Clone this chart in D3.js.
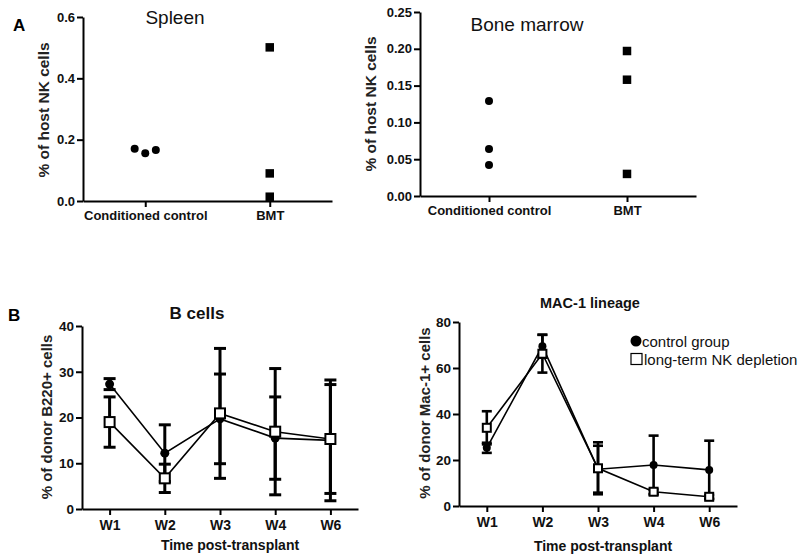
<!DOCTYPE html>
<html><head><meta charset="utf-8">
<script src="https://cdn.jsdelivr.net/npm/d3@7"></script>
<style>
body{margin:0;background:#fff;}
svg{display:block;font-family:"Liberation Sans",Arial,sans-serif;}
</style></head>
<body><svg id="c" width="800" height="560"></svg>
<script>
// ---------- DATA ----------
const groupCats = ["Conditioned control", "BMT"];
const spleenControl = [0.170, 0.156, 0.166];
const spleenBMT = [0.501, 0.090, 0.014];
const spleenTicks = [0, 0.2, 0.4, 0.6];
const marrowControl = [0.129, 0.064, 0.042];
const marrowBMT = [0.197, 0.158, 0.030];
const marrowTicks = [0, 0.05, 0.10, 0.15, 0.20, 0.25];

const weeks = ["W1", "W2", "W3", "W4", "W6"];
const bControlMean = [27.3, 12.2, 19.7, 15.5, 15.0];
const bControlErr  = [1.2, 6.2, 9.8, 9.0, 13.2];
const bNKMean = [19.0, 6.7, 20.9, 16.9, 15.3];
const bNKErr  = [5.5, 3.1, 14.2, 13.8, 11.9];
const bTicks = [0, 10, 20, 30, 40];

const macControlMean = [25.3, 69.5, 16.0, 17.8, 15.7];
const macControlErr  = [2.2, 5.0, 10.2, 12.8, 12.7];
const macNKMean = [34.0, 66.2, 16.4, 6.2, 4.0];
const macNKErr  = [7.2, 8.2, 11.3, 1.0, 0.8];
const macTicks = [0, 20, 40, 60, 80];

const legendLabels = ["control group", "long-term NK depletion"];

// ---------- DRAW ----------
const svg = d3.select("#c");

function styleAxis(g, fs) {
  g.selectAll("path.domain").attr("stroke", "#000").attr("stroke-width", 2);
  g.selectAll(".tick line").attr("stroke", "#000").attr("stroke-width", 2);
  g.selectAll(".tick text").attr("fill", "#111").style("font-weight", "bold")
    .style("font-size", fs + "px").style("font-family", "'Liberation Sans',Arial,sans-serif");
}

function scatterPanel(o) {
  const x = d3.scalePoint().domain(groupCats).range([o.x0, o.x1]).padding(0.5);
  const y = d3.scaleLinear().domain([0, d3.max(o.ticks)]).range([o.yb, o.yt]);
  const g = svg.append("g");
  const ya = g.append("g").attr("transform", `translate(${o.x0},0)`)
    .call(d3.axisLeft(y).tickValues(o.ticks).tickFormat(d3.format(o.fmt)).tickSize(6).tickSizeOuter(0).tickPadding(2));
  styleAxis(ya, 13);
  const xa = g.append("g").attr("transform", `translate(0,${o.yb})`)
    .call(d3.axisBottom(x).tickSize(6).tickSizeOuter(0).tickPadding(4));
  styleAxis(xa, 13);
  const step = x.step();
  const n = o.control.length;
  g.selectAll("circle.c").data(o.control).enter().append("circle")
    .attr("cx", (d, i) => x(groupCats[0]) + (o.jitter ? (i - (n - 1) / 2) * step * 0.085 : 0))
    .attr("cy", d => y(d)).attr("r", 4).attr("fill", "#000");
  const s = 8.5;
  g.selectAll("rect.b").data(o.bmt).enter().append("rect")
    .attr("x", x(groupCats[1]) - s / 2).attr("y", d => y(d) - s / 2)
    .attr("width", s).attr("height", s).attr("fill", "#000");
  g.append("text").attr("x", o.tx).attr("y", o.ty).attr("text-anchor", "middle")
    .style("font-size", "19px").attr("fill", "#111").text(o.title);
  g.append("text").attr("transform", `translate(${o.ytx},${o.yty}) rotate(-90)`)
    .attr("text-anchor", "middle").attr("dy", "0.35em")
    .style("font-size", "15.5px").style("font-weight", "bold").attr("fill", "#222")
    .text("% of host NK cells");
}

scatterPanel({x0: 83, x1: 332, yt: 17, yb: 201, ticks: spleenTicks, fmt: ".1f",
  control: spleenControl, bmt: spleenBMT, jitter: true, title: "Spleen", tx: 175, ty: 24, ytx: 44, yty: 110});
scatterPanel({x0: 420, x1: 696, yt: 12, yb: 196, ticks: marrowTicks, fmt: ".2f",
  control: marrowControl, bmt: marrowBMT, jitter: false, title: "Bone marrow", tx: 527, ty: 31, ytx: 371, yty: 104});

function timePanel(o) {
  const x = d3.scalePoint().domain(weeks).range([o.x0, o.x1]).padding(0.5);
  const y = d3.scaleLinear().domain([0, d3.max(o.ticks)]).range([o.yb, o.yt]);
  const g = svg.append("g");
  const ya = g.append("g").attr("transform", `translate(${o.x0},0)`)
    .call(d3.axisLeft(y).tickValues(o.ticks).tickFormat(d3.format("d")).tickSize(6).tickSizeOuter(0).tickPadding(2));
  styleAxis(ya, 13.5);
  const xa = g.append("g").attr("transform", `translate(0,${o.yb})`)
    .call(d3.axisBottom(x).tickSize(6).tickSizeOuter(0).tickPadding(5));
  styleAxis(xa, 14);

  const series = [
    {mean: o.cMean, err: o.cErr, kind: "circle"},
    {mean: o.nMean, err: o.nErr, kind: "square"}
  ];
  const line = d3.line().x((d, i) => x(weeks[i])).y(d => y(d));
  series.forEach(s => {
    g.append("path").datum(s.mean).attr("d", line).attr("fill", "none")
      .attr("stroke", "#000").attr("stroke-width", 1.6);
  });
  series.forEach(s => {
    s.mean.forEach((m, i) => {
      const cx = x(weeks[i]);
      const lo = y(Math.max(0, m - s.err[i])), hi = y(m + s.err[i]);
      g.append("line").attr("x1", cx).attr("x2", cx).attr("y1", lo).attr("y2", hi)
        .attr("stroke", "#000").attr("stroke-width", o.ew);
      [lo, hi].forEach(yy => g.append("line").attr("x1", cx - o.cap).attr("x2", cx + o.cap)
        .attr("y1", yy).attr("y2", yy).attr("stroke", "#000").attr("stroke-width", o.ew));
    });
  });
  series.forEach(s => {
    if (s.kind === "circle") {
      g.selectAll(null).data(s.mean).enter().append("circle")
        .attr("cx", (d, i) => x(weeks[i])).attr("cy", d => y(d)).attr("r", o.r).attr("fill", "#000");
    } else {
      g.selectAll(null).data(s.mean).enter().append("rect")
        .attr("x", (d, i) => x(weeks[i]) - o.sq / 2).attr("y", d => y(d) - o.sq / 2)
        .attr("width", o.sq).attr("height", o.sq).attr("fill", "#fff")
        .attr("stroke", "#000").attr("stroke-width", 2);
    }
  });
  g.append("text").attr("x", o.tx).attr("y", o.ty).attr("text-anchor", "middle")
    .style("font-size", o.tfs + "px").style("font-weight", "bold").attr("fill", "#111").text(o.title);
  g.append("text").attr("x", (o.x0 + o.x1) / 2 + o.xtOff).attr("y", o.xty).attr("text-anchor", "middle")
    .style("font-size", "14px").style("font-weight", "bold").attr("fill", "#111").text("Time post-transplant");
  g.append("text").attr("transform", `translate(${o.ytx},${o.yty}) rotate(-90)`)
    .attr("text-anchor", "middle").attr("dy", "0.35em")
    .style("font-size", "15px").style("font-weight", "bold").attr("fill", "#222").text(o.ytitle);
}

timePanel({x0: 82, x1: 358, yt: 326, yb: 509, ticks: bTicks,
  cMean: bControlMean, cErr: bControlErr, nMean: bNKMean, nErr: bNKErr,
  ew: 3, cap: 6, r: 4.5, sq: 10, title: "B cells", tfs: 17, tx: 197, ty: 319,
  xtOff: 10, xty: 550, ytx: 47, yty: 417, ytitle: "% of donor B220+ cells"});
timePanel({x0: 459, x1: 737, yt: 322, yb: 506, ticks: macTicks,
  cMean: macControlMean, cErr: macControlErr, nMean: macNKMean, nErr: macNKErr,
  ew: 2.6, cap: 5, r: 4, sq: 8, title: "MAC-1 lineage", tfs: 14.5, tx: 590, ty: 308,
  xtOff: 5, xty: 551, ytx: 425, yty: 413, ytitle: "% of donor Mac-1+ cells"});

// Legend
const lg = svg.append("g");
lg.append("circle").attr("cx", 636).attr("cy", 341).attr("r", 5.5).attr("fill", "#000");
lg.append("text").attr("x", 642).attr("y", 346.5).style("font-size", "15px").attr("fill", "#111").text(legendLabels[0]);
lg.append("rect").attr("x", 631).attr("y", 353.5).attr("width", 11).attr("height", 11)
  .attr("fill", "#fff").attr("stroke", "#000").attr("stroke-width", 1.2);
lg.append("text").attr("x", 644).attr("y", 364.5).style("font-size", "15px").attr("fill", "#111").text(legendLabels[1]);

// Panel letters
svg.append("text").attr("x", 13).attr("y", 31).style("font-size", "17px").style("font-weight", "bold").text("A");
svg.append("text").attr("x", 8).attr("y", 321).style("font-size", "17px").style("font-weight", "bold").text("B");
</script></body></html>
